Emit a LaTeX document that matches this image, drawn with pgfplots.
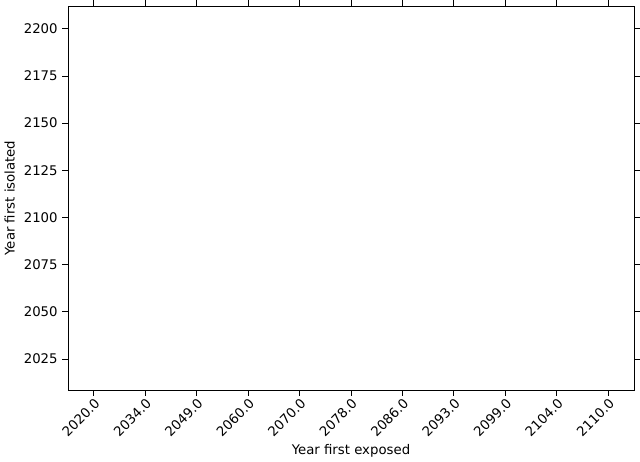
\documentclass[border=0pt]{standalone}
\usepackage{pgfplots}
\pgfplotsset{compat=1.18}
\usepgfplotslibrary{statistics}
\usepackage{fontspec}
\setmainfont{DejaVu Sans}
\definecolor{edge}{HTML}{3F3F3F}
\begin{document}
\begin{tikzpicture}
\begin{axis}[
  scale only axis, width=426pt, height=289pt,
  xmin=-0.5, xmax=10.5, ymin=8.6, ymax=212,
  xtick={0,...,10},
  xticklabels={2020.0,2034.0,2049.0,2060.0,2070.0,2078.0,2086.0,2093.0,2099.0,2104.0,2110.0},
  xticklabel style={rotate=45, anchor=north east, inner sep=1pt},
  ytick={25,50,...,200},
  yticklabels={2025,2050,2075,2100,2125,2150,2175,2200},
  xlabel={Year first exposed}, ylabel={Year first isolated},
  tick align=outside, tick style={black, line width=0.6pt},
  axis line style={line width=0.6pt},
  boxplot/box extend=0.8, boxplot/whisker extend=0.4,
  every boxplot/.style={draw=edge, fill=red, line width=1.1pt, solid,
    mark=diamond*, mark size=2.5pt, mark options={fill=edge, draw=edge}},
]
\addplot+[boxplot prepared={draw position=0, lower whisker=34, lower quartile=34, median=34, upper quartile=34, upper whisker=34}] coordinates {(0,20)};
\addplot+[boxplot prepared={draw position=1, lower whisker=34, lower quartile=34, median=34, upper quartile=34, upper whisker=34}] coordinates {(1,20)};
\addplot+[boxplot prepared={draw position=2, lower whisker=49, lower quartile=49, median=49, upper quartile=49, upper whisker=49}] coordinates {(2,20) (2,34)};
\addplot+[boxplot prepared={draw position=3, lower whisker=34, lower quartile=49, median=60, upper quartile=60, upper whisker=60}] coordinates {(3,20)};
\addplot+[boxplot prepared={draw position=4, lower whisker=49, lower quartile=60, median=70, upper quartile=70, upper whisker=70}] coordinates {(4,20) (4,34)};
\addplot+[boxplot prepared={draw position=5, lower whisker=34, lower quartile=60, median=70, upper quartile=78, upper whisker=78}] coordinates {(5,20)};
\addplot+[boxplot prepared={draw position=6, lower whisker=49, lower quartile=70, median=78, upper quartile=86, upper whisker=86}] coordinates {(6,20) (6,34)};
\addplot+[boxplot prepared={draw position=7, lower whisker=60, lower quartile=78, median=86, upper quartile=93, upper whisker=93}] coordinates {(7,20) (7,34) (7,49)};
\addplot+[boxplot prepared={draw position=8, lower whisker=70, lower quartile=86, median=93, upper quartile=99, upper whisker=99}] coordinates {(8,20) (8,34) (8,49) (8,60)};
\addplot+[boxplot prepared={draw position=9, lower whisker=60, lower quartile=86, median=99, upper quartile=104, upper whisker=104}] coordinates {(9,20) (9,34) (9,49)};
\addplot+[boxplot prepared={draw position=10, lower whisker=70, lower quartile=93, median=104, upper quartile=110, upper whisker=110}] coordinates {(10,20) (10,34) (10,49) (10,60)};
\end{axis}
\end{tikzpicture}
\end{document}
